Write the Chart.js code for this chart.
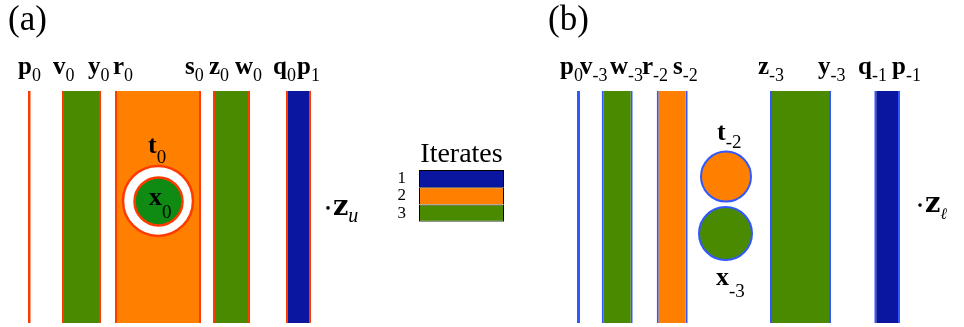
<!DOCTYPE html>
<html>
<head>
<meta charset="utf-8">
<script src="https://cdn.jsdelivr.net/npm/chart.js@4"></script>
<style>
  html, body { margin: 0; padding: 0; background: #fff; }
  #fig { position: relative; width: 964px; height: 327px; overflow: hidden; background: #fff; }
  #fig canvas { position: absolute; }
</style>
</head>
<body>
<div id="fig">
  <canvas id="panelA" width="380" height="327" style="left:0;top:0"></canvas>
  <canvas id="key" width="120" height="110" style="left:390px;top:135px"></canvas>
  <canvas id="panelB" width="424" height="327" style="left:540px;top:0"></canvas>
</div>
<script>
// ---------- data ----------
// iterate index of each band: 1, 2, 3 (0 = boundary line only)
const iterateNames = ['1', '2', '3'];

// panel (a): band edges along the strip (abscissa units)
const bandStartA = [0.8, 4.2, 9.5, 19.3, 26.6];
const bandEndA   = [1.05, 8.1, 18.1, 23.0, 29.1];
const bandIterA  = [0, 3, 2, 3, 1];

// panel (a): labels above the strip
const topBaseA = ['p', 'v', 'y', 'r', 's', 'z', 'w', 'q', 'p'];
const topSubA  = ['0', '0', '0', '0', '0', '0', '0', '0', '1'];
const topXA    = [-0.2, 3.3, 6.8, 9.3, 16.5, 18.9, 21.5, 25.3, 27.7];

// panel (a): discs (centre x, centre y, radius)
const discXA = [13.8, 13.85];
const discYA = [5.26, 5.24];
const discRA = [35, 24];
const discFillA = ['white', 'innerGreen'];

// panel (a): point labels inside the strip
const noteBaseA = ['t', 'x'];
const noteSubA  = ['0', '0'];
const noteXA    = [12.8, 12.9];
const noteYA    = [7.33, 5.09];

// panel (a): fixed point
const pointNameA = ['z', 'u'];
const pointPosA  = [30.8, 4.66];

// panel (b): band edges
const bandStartB = [1.7, 4.17, 9.67, 21.0, 31.43];
const bandEndB   = [2.0, 7.27, 12.77, 27.1, 34.0];
const bandIterB  = [0, 3, 2, 3, 1];

// panel (b): labels above the strip
const topBaseB = ['p', 'v', 'w', 'r', 's', 'z', 'y', 'q', 'p'];
const topSubB  = ['0', '-3', '-3', '-2', '-2', '-3', '-3', '-1', '-1'];
const topXB    = [0.0, 2.0, 5.0, 8.2, 11.3, 19.8, 25.8, 29.8, 33.2];

// panel (b): discs
const discXB = [16.6, 16.55];
const discYB = [6.31, 3.86];
const discRB = [25, 26.5];
const discIterB = [2, 3];

// panel (b): point labels
const noteBaseB = ['t', 'x'];
const noteSubB  = ['-2', '-3'];
const noteXB    = [15.7, 15.6];
const noteYB    = [7.89, 1.64];

// panel (b): fixed point
const pointNameB = ['z', '\u2113'];
const pointPosB  = [36.0, 4.78];

// ---------- styling ----------
const iterColor = { 1: '#0b16a0', 2: '#ff8000', 3: '#4a8a00' };
const innerGreen = '#0f8a12';
const redEdge = '#ff3a00';
const blueEdge = '#3158ff';
const SERIF = '"Liberation Serif", "Times New Roman", serif';

function bandDatasets(starts, ends, iters, edge) {
  return starts.map((s, i) => {
    const line = iters[i] === 0;
    return {
      type: 'bar',
      data: [[s, ends[i]]],
      backgroundColor: line ? edge : iterColor[iters[i]],
      borderColor: edge,
      borderWidth: line ? 0 : { left: 2, right: 2, top: 0, bottom: 0 },
      borderSkipped: false,
      inflateAmount: 0,
      grouped: false,
      barPercentage: 1,
      categoryPercentage: 1,
      xAxisID: 'x',
      yAxisID: 'y',
      order: 2
    };
  });
}

function discDataset(xs, ys, rs, fills, edge, bw) {
  return {
    type: 'bubble',
    indexAxis: 'x',
    data: xs.map((x, i) => ({ x: x, y: ys[i], r: rs[i] })),
    backgroundColor: fills,
    borderColor: edge,
    borderWidth: bw,
    hoverBorderWidth: bw,
    xAxisID: 'x',
    yAxisID: 'y2',
    order: 0
  };
}

function drawIndexed(ctx, x, y, base, sub, drop, baseFont, subFont) {
  ctx.font = baseFont;
  ctx.fillText(base, x, y);
  const w = ctx.measureText(base).width;
  ctx.font = subFont || ('19px ' + SERIF);
  ctx.fillText(sub, x + w, y + drop);
}

function decorPlugin(tag, tops, subs, topXs, nBase, nSub, nX, nY, nDrops, pName, pPos, pSubFont) {
  return {
    id: 'decor' + tag,
    afterDatasetsDraw(chart) {
      const ctx = chart.ctx;
      const xs = chart.scales.x, ys = chart.scales.y2;
      const area = chart.chartArea;
      ctx.save();
      ctx.fillStyle = '#000';
      ctx.textAlign = 'left';
      ctx.textBaseline = 'alphabetic';
      // panel tag
      ctx.font = '35px ' + SERIF;
      ctx.fillText(tag, area.left - 12, 30);
      // vertex labels above the strip
      const base = area.top - 17;
      tops.forEach((t, i) => {
        drawIndexed(ctx, xs.getPixelForValue(topXs[i]), base, t, subs[i], 7, 'bold 25px ' + SERIF, '18px ' + SERIF);
      });
      // labels inside the strip
      nBase.forEach((t, i) => {
        drawIndexed(ctx, xs.getPixelForValue(nX[i]), ys.getPixelForValue(nY[i]), t, nSub[i], nDrops[i], 'bold 26px ' + SERIF);
      });
      // fixed point
      const px = xs.getPixelForValue(pPos[0]);
      const py = ys.getPixelForValue(pPos[1]);
      ctx.beginPath();
      ctx.arc(px, py - 7, 1.8, 0, Math.PI * 2);
      ctx.fill();
      drawIndexed(ctx, px + 5, py, pName[0], pName[1], 7, 'bold 27px "DejaVu Serif", serif', pSubFont);
      ctx.restore();
    }
  };
}

function stripOptions(xMax, padRight) {
  return {
    responsive: false,
    animation: false,
    events: [],
    indexAxis: 'y',
    layout: { autoPadding: false, padding: { left: 20, right: padRight, top: 91, bottom: 4 } },
    plugins: { legend: { display: false }, tooltip: { enabled: false }, title: { display: false } },
    scales: {
      x: { type: 'linear', axis: 'x', min: 0, max: xMax, display: false, offset: false },
      y: { type: 'category', axis: 'y', display: false, offset: true },
      y2: { type: 'linear', axis: 'y', min: 0, max: 10, display: false, offset: false }
    }
  };
}

// ---------- panel (a) ----------
new Chart(document.getElementById('panelA'), {
  type: 'bar',
  data: {
    labels: [''],
    datasets: [
      discDataset(discXA, discYA, discRA, discFillA.map(f => f === 'white' ? '#ffffff' : innerGreen), redEdge, 2.5)
    ].concat(bandDatasets(bandStartA, bandEndA, bandIterA, redEdge))
  },
  options: stripOptions(30, 60),
  plugins: [decorPlugin('(a)', topBaseA, topSubA, topXA, noteBaseA, noteSubA, noteXA, noteYA, [10, 13],
                        pointNameA, pointPosA, 'italic 20px ' + SERIF)]
});

// ---------- key ----------
new Chart(document.getElementById('key'), {
  type: 'bar',
  data: {
    labels: iterateNames,
    datasets: [{
      data: iterateNames.map(() => [0, 1]),
      backgroundColor: iterateNames.map((n) => iterColor[n]),
      borderColor: '#000',
      borderWidth: (c) => ({ left: 1, right: 1, top: 1, bottom: c.dataIndex === iterateNames.length - 1 ? 1 : 0 }),
      borderSkipped: false,
      inflateAmount: 0,
      barPercentage: 1,
      categoryPercentage: 1
    }]
  },
  options: {
    responsive: false,
    animation: false,
    events: [],
    indexAxis: 'y',
    layout: { autoPadding: false, padding: { left: 4, right: 6, top: 35, bottom: 5 } },
    plugins: { legend: { display: false }, tooltip: { enabled: false } },
    scales: {
      x: { type: 'linear', min: 0, max: 1, display: false },
      y: {
        type: 'category',
        offset: true,
        grid: { display: false, drawTicks: false },
        border: { display: false },
        ticks: { color: '#000', padding: 13, autoSkip: false, font: { family: 'Liberation Serif', size: 17 } },
        afterFit(scale) { scale.width = 25; }
      }
    }
  },
  plugins: [{
    id: 'keyTitle',
    afterDraw(chart) {
      const ctx = chart.ctx, a = chart.chartArea;
      ctx.save();
      ctx.fillStyle = '#000';
      ctx.font = '28px ' + SERIF;
      ctx.textAlign = 'center';
      ctx.textBaseline = 'alphabetic';
      ctx.fillText('Iterates', (a.left + a.right) / 2, a.top - 8);
      ctx.restore();
    }
  }]
});

// ---------- panel (b) ----------
new Chart(document.getElementById('panelB'), {
  type: 'bar',
  data: {
    labels: [''],
    datasets: [
      discDataset(discXB, discYB, discRB, discIterB.map(k => iterColor[k]), blueEdge, 2)
    ].concat(bandDatasets(bandStartB, bandEndB, bandIterB, blueEdge))
  },
  options: stripOptions(35, 54),
  plugins: [decorPlugin('(b)', topBaseB, topSubB, topXB, noteBaseB, noteSubB, noteXB, noteYB, [8, 12],
                        pointNameB, pointPosB, 'italic 16px "DejaVu Serif", serif')]
});
</script>
</body>
</html>
